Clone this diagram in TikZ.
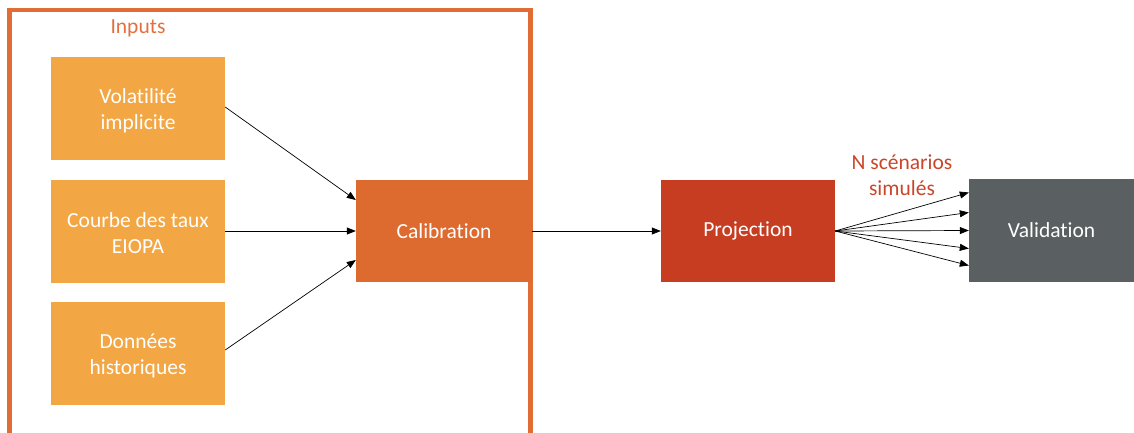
\documentclass[tikz,border=0pt]{standalone}
\usepackage{fontspec}
\setmainfont{Carlito}[Ligatures=NoCommon]
\usetikzlibrary{arrows.meta}
\definecolor{inbox}{HTML}{F3A644}
\definecolor{calib}{HTML}{DD6A2F}
\definecolor{frame}{HTML}{E06D33}
\definecolor{proj}{HTML}{C63D21}
\definecolor{valid}{HTML}{5A5F62}
\definecolor{lbl}{HTML}{C9462A}
\definecolor{inlbl}{HTML}{E2703F}
\tikzset{
  box/.style={rectangle, minimum width=174pt, minimum height=103pt, inner sep=0pt,
    text=white, align=center, font=\fontsize{21.5}{26}\selectfont},
  conn/.style={draw=black, line width=0.7pt, -{Triangle[length=9pt,width=7pt]}},
}
\begin{document}
\begin{tikzpicture}[x=1pt,y=-1pt]
\useasboundingbox (0,0) rectangle (1134,432);
\begin{scope}
\clip (0,0) rectangle (1134,432);
\draw[frame, line width=4.5pt] (9.5,10) rectangle (530.5,460);
\end{scope}
\node[text=inlbl, font=\fontsize{21.5}{26}\selectfont] (inputs) at (138,28) {Inputs};
\node[box, fill=inbox] (vol) at (138,108.5) {\rule{0pt}{19pt}Volatilité\\implicite};
\node[box, fill=inbox] (courbe) at (138,231) {\rule{0pt}{19pt}Courbe des taux\\EIOPA};
\node[box, fill=inbox] (donnees) at (138,353.5) {\rule{0pt}{19pt}Données\\historiques};
\node[box, fill=calib, minimum width=176pt, minimum height=102pt] (calib) at (444,231) {Calibration};
\node[box, fill=proj, minimum height=102pt] (proj) at (748,231) {Projection};
\node[box, fill=valid, minimum width=165pt] (valid) at (1051.5,230.5) {Validation};
\node[text=lbl, align=center, font=\fontsize{21.5}{26}\selectfont] (nlab) at (902,175) {N scénarios\\simulés};
\draw[conn] ([yshift=1.5pt]vol.east) -- ([yshift=31pt]calib.west);
\draw[conn] (courbe.east) -- (calib.west);
\draw[conn] ([yshift=3.5pt]donnees.east) -- ([yshift=-29pt]calib.west);
\draw[conn] (calib.east) -- (proj.west);
\draw[conn] (proj.east) -- ([yshift=38pt]valid.west);
\draw[conn] (proj.east) -- ([yshift=18pt]valid.west);
\draw[conn] (proj.east) -- (valid.west);
\draw[conn] (proj.east) -- ([yshift=-18pt]valid.west);
\draw[conn] (proj.east) -- ([yshift=-35pt]valid.west);
\end{tikzpicture}
\end{document}
